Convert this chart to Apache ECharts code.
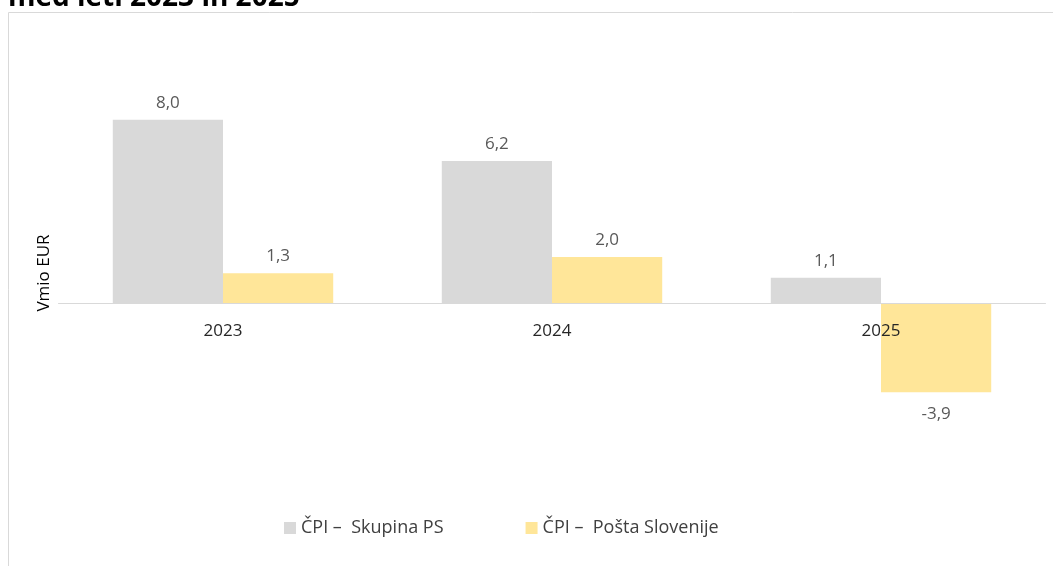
<!DOCTYPE html>
<html>
<head>
<meta charset="utf-8">
<script src="https://cdn.jsdelivr.net/npm/echarts@6/dist/echarts.min.js"></script>
<style>
  html, body { margin: 0; padding: 0; background: #fff; }
  #chart { width: 1053px; height: 566px; }
</style>
</head>
<body>
<div id="chart"></div>
<script>
// leta
var years = ['2023', '2024', '2025'];
// ČPI v mio EUR
var skupinaPS = [8.0, 6.2, 1.1];
var postaSlovenije = [1.3, 2.0, -3.9];
var seriesNames = ['ČPI –  Skupina PS', 'ČPI –  Pošta Slovenije'];

var font = '"Open Sans", "Noto Sans", sans-serif';

var chart = echarts.init(document.getElementById('chart'));

function valueLabel(pos, dist) {
	return {
		show: true,
		position: pos,
		distance: dist,
		color: '#595959',
		fontSize: 17,
		fontFamily: font,
		formatter: function (p) {
			return p.value.toFixed(1).replace('.', ',');
		}
	};
}

var option = {
	animation: false,
	graphic: [
		{
			type: 'rect',
			silent: true,
			shape: { x: 8.5, y: 12.5, width: 1100, height: 700 },
			style: { fill: 'none', stroke: '#d9d9d9', lineWidth: 1 }
		},
		{
			type: 'text',
			left: 8,
			top: -16,
			style: {
				text: 'med leti 2023 in 2025',
				font: 'bold 28px ' + font,
				fill: '#000'
			}
		},
		{
			type: 'text',
			rotation: Math.PI / 2,
			x: 44,
			y: 273,
			style: {
				text: 'Vmio EUR',
				font: '17px ' + font,
				fill: '#000',
				align: 'center',
				verticalAlign: 'middle'
			}
		}
	],
	legend: {
		left: 284,
		top: 519,
		padding: 0,
		itemWidth: 12,
		itemHeight: 12,
		itemGap: 82,
		icon: 'rect',
		textStyle: { color: '#404040', fontSize: 18, fontFamily: font },
		data: seriesNames
	},
	grid: {
		left: 58.5,
		right: 7.5,
		top: 74,
		height: 412
	},
	xAxis: {
		type: 'category',
		data: years,
		z: 5,
		offset: -183,
		axisLine: { onZero: false, lineStyle: { color: '#d9d9d9' } },
		axisTick: { show: false },
		axisLabel: { color: '#262626', fontSize: 17, fontFamily: font, margin: 20 }
	},
	yAxis: {
		type: 'value',
		min: -8,
		max: 10,
		show: false,
		splitLine: { show: false }
	},
	series: [
		{
			name: seriesNames[0],
			type: 'bar',
			barGap: '0%',
			barCategoryGap: '33%',
			itemStyle: { color: '#d9d9d9' },
			label: valueLabel('top', 8),
			data: skupinaPS
		},
		{
			name: seriesNames[1],
			type: 'bar',
			itemStyle: { color: '#ffe699' },
			label: valueLabel('top', 8),
			data: postaSlovenije.map(function (v) {
				return v < 0 ? { value: v, label: valueLabel('bottom', 14) } : v;
			})
		}
	]
};

chart.setOption(option);
</script>
</body>
</html>
